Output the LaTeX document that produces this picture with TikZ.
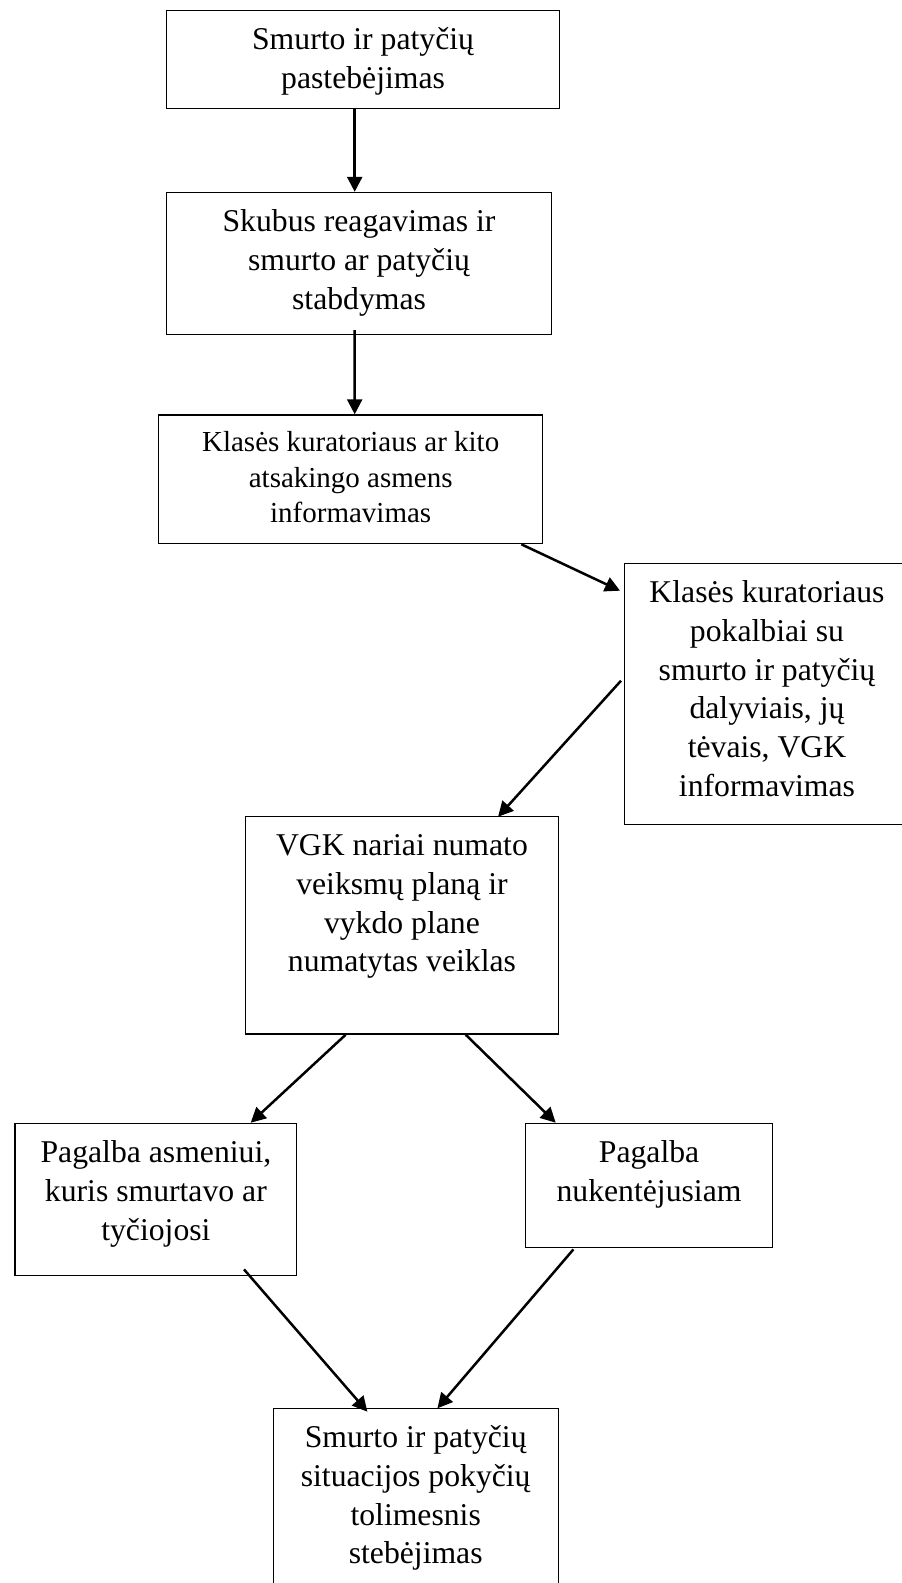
\documentclass[tikz,border=0pt]{standalone}
\usepackage{fontspec}
\setmainfont{Liberation Serif}
\usetikzlibrary{arrows.meta}
\newcommand{\boxlines}[3]{\parbox[c][#2][t]{#1}{\centering\strut #3}}

\begin{document}
\begin{tikzpicture}
[x=1pt,y=-1pt,%
  flow/.style={-{Triangle[length=15pt,width=15pt]},line width=2.5pt},%
  block/.style={draw,line width=1.4pt,anchor=north west,inner xsep=0pt,inner ysep=12pt,font=\fontsize{31.7}{38.8}\selectfont},%
  smallblock/.style={block,font=\fontsize{29}{35.5}\selectfont}]
\useasboundingbox (0,0) rectangle (902,1583);
%% boxes
\node[block] (notice) at (166,10) {\boxlines{392.7pt}{73.9pt}{Smurto ir patyčių\\pastebėjimas}};
\node[block] (react) at (166,191.8) {\boxlines{384.7pt}{117.8pt}{Skubus reagavimas ir\\smurto ar patyčių\\stabdymas}};
\node[smallblock] (inform) at (158,414.3) {\boxlines{384pt}{104.6pt}{Klasės kuratoriaus ar kito\\atsakingo asmens\\informavimas}};
\node[block] (talks) at (624,562.7) {\boxlines{284.6pt}{237.3pt}{Klasės kuratoriaus\\pokalbiai su\\smurto ir patyčių\\dalyviais, jų\\tėvais, VGK\\informavimas}};
\node[block] (plan) at (244.5,815.7) {\boxlines{313.5pt}{193.6pt}{VGK nariai numato\\veiksmų planą ir\\vykdo plane\\numatytas veiklas}};
\node[block] (helpa) at (14.4,1122.7) {\boxlines{281.6pt}{128.3pt}{Pagalba asmeniui,\\kuris smurtavo ar\\tyčiojosi}};
\node[block] (helpv) at (524.7,1122.7) {\boxlines{247.3pt}{100pt}{Pagalba\\nukentėjusiam}};
\node[block] (follow) at (272.5,1407.7) {\boxlines{285pt}{180pt}{Smurto ir patyčių\\situacijos pokyčių\\tolimesnis\\stebėjimas}};
%% arrows between boxes
\path
([xshift=-8.35pt]notice.south) edge[flow] ([xshift=-4.35pt]react.north)
([xshift=-4.35pt,yshift=5pt]react.south) edge[flow] ([xshift=4pt]inform.north)
([xshift=-22pt]inform.south east) edge[flow] ([xshift=-4pt,yshift=-28pt]talks.north west)
([xshift=-3pt,yshift=13.35pt]talks.west) edge[flow] ([xshift=-61.3pt,yshift=-1pt]plan.north east)
([xshift=-56.25pt]plan.south) edge[flow] ([xshift=94.8pt]helpa.north)
([xshift=63.75pt]plan.south) edge[flow] ([xshift=-93.35pt]helpv.north)
([xshift=88.1pt,yshift=7pt]helpa.south) edge[flow] ([xshift=-48.3pt,yshift=-4pt]follow.north)
([xshift=-75.65pt,yshift=-1.3pt]helpv.south) edge[flow] ([xshift=21.7pt,yshift=-0.6pt]follow.north);
\end{tikzpicture}
\end{document}
